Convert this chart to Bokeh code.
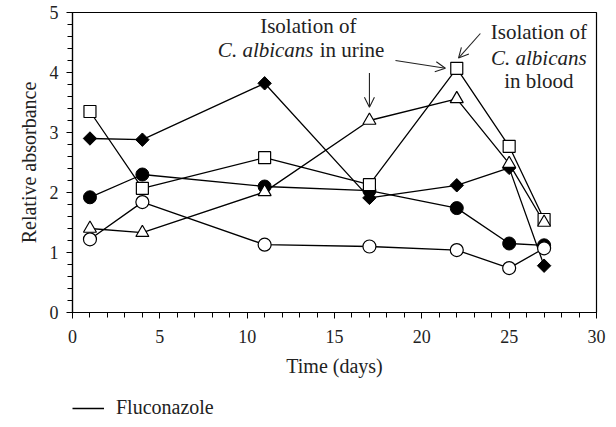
import math
from bokeh.plotting import figure
from bokeh.layouts import column
from bokeh.models import (Range1d, SingleIntervalTicker, Arrow, OpenHead, Label,
                          Legend, LegendItem)
from bokeh.embed import file_html
from bokeh.resources import INLINE

# ---- data ----
days = [1, 4, 11, 17, 22, 25, 27]
diamond_vals = [2.90, 2.88, 3.82, 1.91, 2.12, 2.41, 0.78]
filled_circle_vals = [1.92, 2.30, 2.10, 2.03, 1.74, 1.15, 1.12]
open_circle_vals = [1.22, 1.84, 1.13, 1.10, 1.04, 0.74, 1.07]
triangle_vals = [1.40, 1.33, 2.01, 3.20, 3.56, 2.48, 1.50]
square_vals = [3.35, 2.07, 2.58, 2.13, 4.07, 2.77, 1.55]
legend_label = "Fluconazole"

FONT = "Liberation Serif"
TXT = "#222222"

p = figure(width=614, height=394, output_backend="svg", toolbar_location=None,
           x_range=Range1d(0, 30), y_range=Range1d(0, 5),
           min_border_left=72, min_border_right=18, min_border_top=12,
           min_border_bottom=82)
p.grid.visible = False
p.outline_line_color = "black"
p.outline_line_width = 1.2
p.background_fill_color = "white"
p.border_fill_color = "white"

p.xaxis.ticker = SingleIntervalTicker(interval=5, num_minor_ticks=5)
p.yaxis.ticker = SingleIntervalTicker(interval=1, num_minor_ticks=5)
for ax in (p.xaxis, p.yaxis):
    ax.axis_line_color = "black"
    ax.axis_line_width = 1.2
    ax.major_tick_line_color = "black"
    ax.minor_tick_line_color = "black"
    ax.major_tick_in = 0
    ax.major_tick_out = 6
    ax.minor_tick_in = 0
    ax.minor_tick_out = 5
    ax.major_label_text_font = FONT
    ax.major_label_text_font_size = "18px"
    ax.major_label_text_color = TXT
    ax.axis_label_text_font = FONT
    ax.axis_label_text_font_size = "20px"
    ax.axis_label_text_font_style = "normal"
    ax.axis_label_text_color = TXT
p.xaxis.axis_label = "Time (days)"
p.yaxis.axis_label = "Relative absorbance"
p.xaxis.major_label_standoff = 11
p.yaxis.major_label_standoff = 8
p.xaxis.axis_label_standoff = 9
p.yaxis.axis_label_standoff = 7

lw = 1.3
p.line(days, diamond_vals, line_color="black", line_width=lw)
p.line(days, filled_circle_vals, line_color="black", line_width=lw)
p.line(days, open_circle_vals, line_color="black", line_width=lw)
p.line(days, triangle_vals, line_color="black", line_width=lw)
p.line(days, square_vals, line_color="black", line_width=lw)

p.scatter(days, filled_circle_vals, marker="circle", size=13,
          fill_color="black", line_color="black")
p.scatter(days, diamond_vals, marker="square", size=9.5, angle=math.pi / 4,
          fill_color="black", line_color="black")
p.scatter(days, open_circle_vals, marker="circle", size=13,
          fill_color="white", line_color="black", line_width=1.2)
p.scatter(days, square_vals, marker="square", size=12,
          fill_color="white", line_color="black", line_width=1.2)
p.scatter(days, triangle_vals, marker="triangle", size=13,
          fill_color="white", line_color="black", line_width=1.2)

# ---- annotations ----
def lab(x, y, text, align="center", style="normal"):
    p.add_layout(Label(x=x, y=y, text=text, text_font=FONT,
                       text_font_size="21px", text_font_style=style,
                       text_color=TXT, text_align=align,
                       text_baseline="middle"))

lab(13.50, 4.77, "Isolation of")
lab(13.80, 4.38, "C. albicans", align="right", style="italic")
lab(14.15, 4.38, "in urine", align="left")
lab(26.70, 4.67, "Isolation of")
lab(26.70, 4.25, "C. albicans", style="italic")
lab(26.70, 3.86, "in blood")

def arrow(x0, y0, x1, y1):
    p.add_layout(Arrow(end=OpenHead(size=10, line_width=1.1, line_color=TXT),
                       x_start=x0, y_start=y0, x_end=x1, y_end=y1,
                       line_width=1.1, line_color=TXT))

arrow(17.0, 3.99, 17.0, 3.42)
arrow(18.49, 4.20, 21.35, 4.07)
arrow(23.35, 4.65, 22.10, 4.24)

# ---- legend strip (separate small figure below; key line kept out of view) ----
lg = figure(width=614, height=31, output_backend="svg", toolbar_location=None,
            x_axis_type=None, y_axis_type=None, min_border=0,
            x_range=Range1d(100, 101), y_range=Range1d(100, 101))
lg.grid.visible = False
lg.outline_line_color = None
key = lg.line(days, diamond_vals, line_color="black", line_width=1.3)
legend = Legend(items=[LegendItem(label=legend_label, renderers=[key])],
                location=(0, 6), orientation="horizontal",
                border_line_color=None, background_fill_alpha=0,
                glyph_width=32, label_standoff=12, padding=0, margin=0,
                label_text_font=FONT, label_text_font_size="20px",
                label_text_color=TXT)
lg.add_layout(legend, "center")

open("out.html", "w").write(file_html(column(p, lg, spacing=0), INLINE))
